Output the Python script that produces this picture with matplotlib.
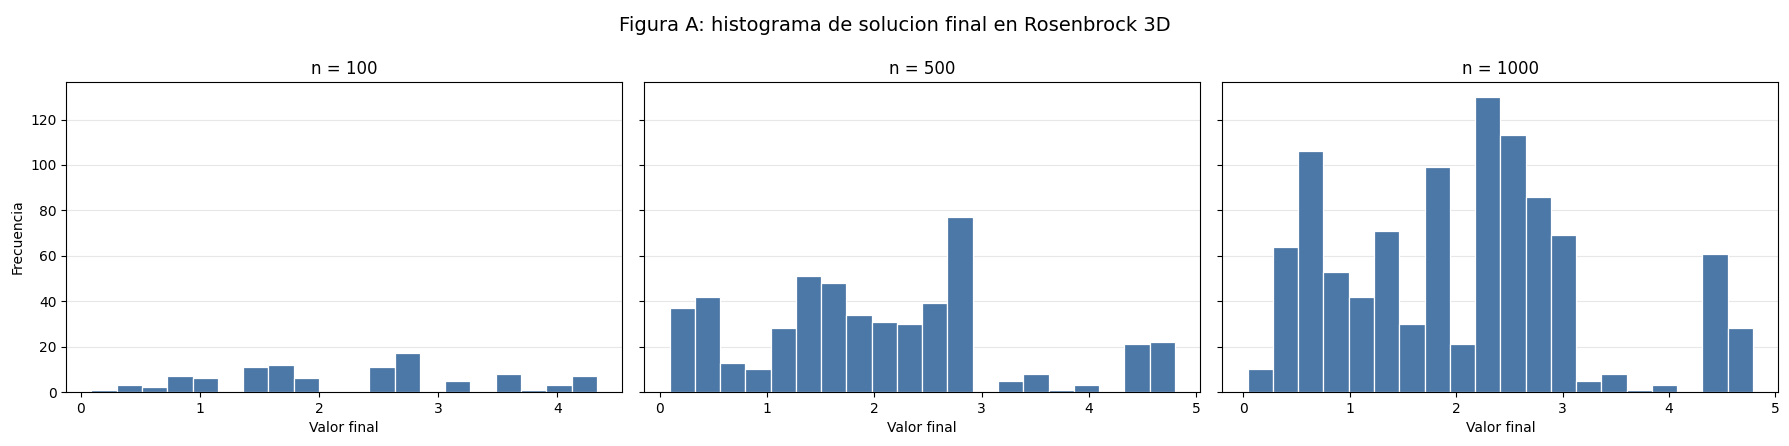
import numpy as np
import matplotlib
matplotlib.use('Agg')
import matplotlib.pyplot as plt

# Histogram data (20 bins per panel)
titles = ['n = 100', 'n = 500', 'n = 1000']
bin_ranges = [(0.09, 4.33), (0.093, 4.80), (0.04, 4.79)]
counts_100 = [1, 3, 2, 7, 6, 0, 11, 12, 6, 0, 0, 11, 17, 0, 5, 0, 8, 1, 3, 7]
counts_500 = [37, 42, 13, 10, 28, 51, 48, 34, 31, 30, 39, 77, 0, 5, 8, 1, 3, 0, 21, 22]
counts_1000 = [10, 64, 106, 53, 42, 71, 30, 99, 21, 130, 113, 86, 69, 5, 8, 1, 3, 0, 61, 28]
all_counts = [counts_100, counts_500, counts_1000]

bar_color = '#4C78A8'

fig, axes = plt.subplots(1, 3, figsize=(17.89, 4.46), dpi=100, sharey=True)

for ax, title, (lo, hi), counts in zip(axes, titles, bin_ranges, all_counts):
    edges = np.linspace(lo, hi, len(counts) + 1)
    centers = (edges[:-1] + edges[1:]) / 2
    ax.hist(centers, bins=edges, weights=counts, color=bar_color,
            edgecolor='white', linewidth=0.9)
    ax.set_title(title, fontsize=12)
    ax.set_xlabel('Valor final', fontsize=10)
    ax.grid(True, axis='y', alpha=0.3)
    ax.set_axisbelow(True)

axes[0].set_ylabel('Frecuencia', fontsize=10)

fig.suptitle('Figura A: histograma de solucion final en Rosenbrock 3D', fontsize=14, y=0.965)
fig.subplots_adjust(left=0.037, right=0.994, top=0.816, bottom=0.121, wspace=0.04)
fig.savefig('out.png', dpi=100)
